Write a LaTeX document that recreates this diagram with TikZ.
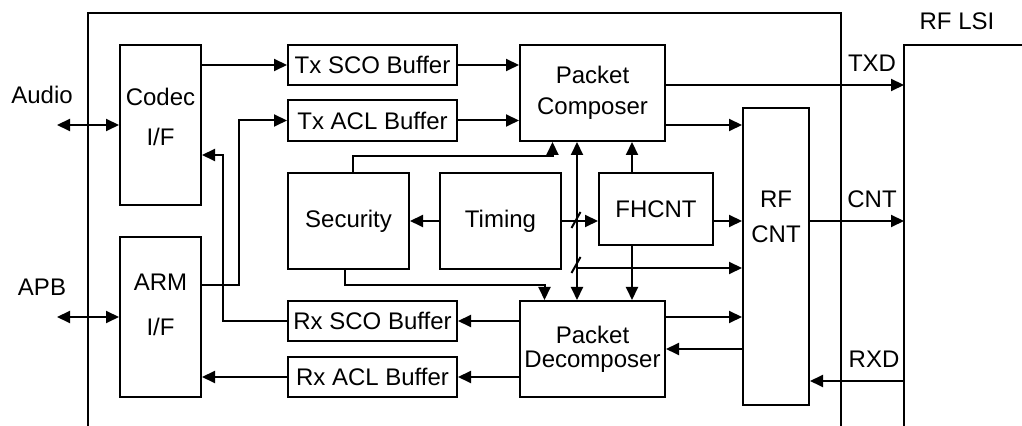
\documentclass[tikz,border=0pt]{standalone}
\usepackage{fontspec}
\setmainfont{Liberation Sans}
\usetikzlibrary{arrows.meta}

\begin{document}
\begin{tikzpicture}[x=0.5pt, y=-0.5pt, line width=1pt,
	font=\fontsize{12}{14}\selectfont,
	>={Triangle[length=6.5pt, width=6pt]},
	block/.style={draw, inner sep=0pt, align=center},
	arr/.style={->},
	dblarr/.style={<->}]
	\useasboundingbox (0,0) rectangle (1022,426);
	% Define the outer frames
	\coordinate (chipbl) at (88,426);
	\coordinate (chiptr) at (841,13);
	\coordinate (lsi) at (904,45);
	\draw (chipbl) |- (chiptr) -- (chiptr |- chipbl);
	\draw (lsi |- chipbl) -- (lsi) -- (1022,45);
	\node (lsitext) at (957,21) {RF LSI};
	% Place the blocks
	\node[block, minimum width=40.5pt, minimum height=80pt] (codec) at (160.5,125) {};
	\node[align=center] (codectext) at (160.5,117) {Codec\\[6pt]I/F};
	\node[block, minimum width=40.5pt, minimum height=80pt] (arm) at (160.5,317) {};
	\node[align=center] (armtext) at (160.5,305) {ARM\\[8.5pt]I/F};
	\node[block, minimum width=84.5pt, minimum height=20pt] (txsco) at (372.5,65) {Tx SCO Buffer};
	\node[block, minimum width=84.5pt, minimum height=20.5pt] (txacl) at (372.5,120.5) {Tx ACL Buffer};
	\node[block, minimum width=84.5pt, minimum height=20pt] (rxsco) at (372.5,321) {Rx SCO Buffer};
	\node[block, minimum width=84.5pt, minimum height=20pt] (rxacl) at (372.5,377) {Rx ACL Buffer};
	\node[block, minimum width=72.5pt, minimum height=48pt] (pc) at (592.5,93) {Packet\\[1.5pt]Composer};
	\node[block, minimum width=72.5pt, minimum height=48pt] (pd) at (592.5,349) {Packet\\[-2pt]Decomposer};
	\node[block, minimum width=60.5pt, minimum height=48pt] (sec) at (348.5,221) {Security};
	\node[block, minimum width=60.5pt, minimum height=48pt] (tim) at (500.5,221) {Timing};
	\node[block, minimum width=57pt, minimum height=36pt] (fh) at (656,209) {FHCNT};
	\node[block, minimum width=33pt, minimum height=148.5pt] (rfcnt) at (776,256.5) {};
	\node[align=center] (rfcnttext) at (776,217) {RF\\[3.5pt]CNT};
	% Port labels
	\node (audiotext) at (42,95) {Audio};
	\node (apbtext) at (42,287) {APB};
	\node (txdtext) at (872,63) {TXD};
	\node (cnttext) at (872,199) {CNT};
	\node (rxdtext) at (874,359) {RXD};
	% Outside ports
	\coordinate (audio) at (57,125);
	\coordinate (apb) at (57,317);
	\draw[dblarr] (audio) -- (codec.west);
	\draw[dblarr] (apb) -- (arm.west);
	% Transmit side
	\draw[arr] (codec.east |- txsco.west) -- (txsco.west);
	\draw[arr] ([yshift=16pt]arm.east) -| ([xshift=-24pt]txacl.west) -- (txacl.west);
	\draw[arr] (txsco.east) -- (txsco.east -| pc.west);
	\draw[arr] (txacl.east) -- (txacl.east -| pc.west);
	% Receive side
	\draw[arr] (rxsco.west) -- ++(-64,0) |- ([yshift=-15pt]codec.east);
	\draw[arr] (rxacl.west) -- (rxacl.west -| arm.east);
	\draw[arr] (pd.west |- rxsco.east) -- (rxsco.east);
	\draw[arr] (pd.west |- rxacl.east) -- (rxacl.east);
	% Security and timing
	\draw[arr] (tim.west) -- (sec.east);
	\draw[arr] ([xshift=2pt]sec.north) -- ++(0,-16) -| ([xshift=-20pt]pc.south);
	\draw[arr] ([xshift=-2pt]sec.south) -- ++(0,15) -| ([xshift=-24pt]pd.north);
	\coordinate (bus) at (577,268);
	\coordinate (fhtap) at (632,209);
	\draw[dblarr] (bus |- pc.south) -- (bus |- pd.north);
	\draw[arr] (tim.east) -- (tim.east -| fh.west);
	\draw[arr] (fhtap |- fh.north) -- (fhtap |- pc.south);
	\draw[arr] (fhtap |- fh.south) -- (fhtap |- pd.north);
	\draw[arr] (fh.east |- tim.east) -- (rfcnt.west |- tim.east);
	\draw[arr] (bus) -- (bus -| rfcnt.west);
	% Bus slashes
	\coordinate (slashA) at (576,220);
	\coordinate (slashB) at (576,265);
	\draw ([shift={(-4.5,8)}]slashA) -- ([shift={(4.5,-8)}]slashA);
	\draw ([shift={(-4.5,8)}]slashB) -- ([shift={(4.5,-8)}]slashB);
	% RF side
	\coordinate (pctx) at ([yshift=4pt]pc.east);
	\coordinate (pcrf) at ([yshift=-16pt]pc.east);
	\coordinate (pdrf) at ([yshift=16pt]pd.east);
	\coordinate (rxd) at (904,381);
	\draw[arr] (pctx) -- (pctx -| lsi);
	\draw[arr] (pcrf) -- (pcrf -| rfcnt.west);
	\draw[arr] (pdrf) -- (pdrf -| rfcnt.west);
	\draw[arr] (rfcnt.west |- pd.east) -- (pd.east);
	\draw[arr] (rfcnt.east |- tim.east) -- (lsi |- tim.east);
	\draw[arr] (rxd) -- (rxd -| rfcnt.east);
\end{tikzpicture}
\end{document}
